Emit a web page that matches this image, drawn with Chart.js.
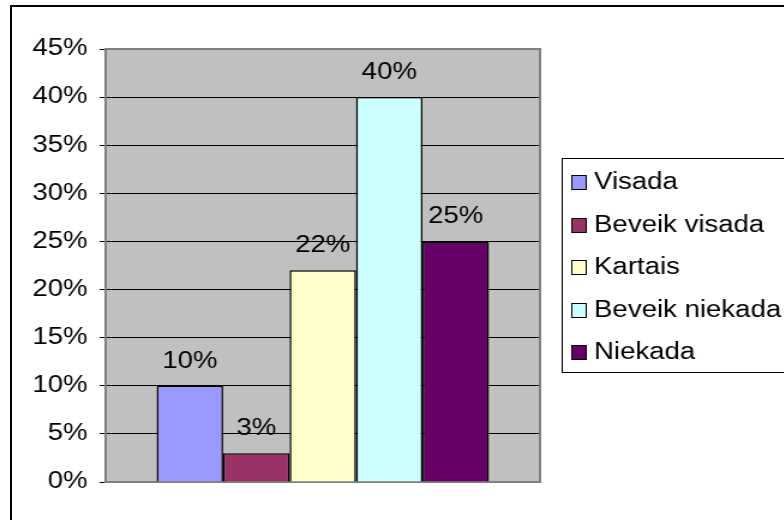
<!DOCTYPE html>
<html>
<head>
<meta charset="utf-8">
<script src="https://cdn.jsdelivr.net/npm/chart.js@4/dist/chart.umd.min.js"></script>
<style>
  html, body { margin: 0; padding: 0; background: #fff; overflow: hidden; }
  #frame {
    position: absolute; left: 10px; top: 5px;
    width: 800px; height: 540px;
    border: 2px solid #000;
  }
  /* the source picture is stretched sideways, so is this one */
  #myChart { position: absolute; left: 0; top: 1px; transform: scaleX(1.2); transform-origin: 0 0; }
</style>
</head>
<body>
<div id="frame"><canvas id="myChart" width="643" height="512"></canvas></div>
<script>
var categories = [''];
var seriesNames = ['Visada', 'Beveik visada', 'Kartais', 'Beveik niekada', 'Niekada'];
var seriesValues = [10, 3, 22, 40, 25];
var seriesColors = ['#9999FF', '#993366', '#FFFFCC', '#CCFFFF', '#660066'];
var yTicks = [0, 5, 10, 15, 20, 25, 30, 35, 40, 45];

var FONT = '"Liberation Sans", Arial, sans-serif';

var datasets = seriesNames.map(function (name, i) {
  return {
    label: name,
    data: [seriesValues[i]],
    backgroundColor: seriesColors[i],
    borderColor: '#000',
    borderWidth: 1.5,
    categoryPercentage: 0.765,
    barPercentage: 1
  };
});

// gray plot area, gray frame, value labels, boxed legend
var excelLook = {
  id: 'excelLook',
  beforeDraw: function (chart) {
    var a = chart.chartArea, ctx = chart.ctx;
    ctx.save();
    ctx.fillStyle = '#C0C0C0';
    ctx.fillRect(a.left, a.top, a.right - a.left, a.bottom - a.top);
    ctx.restore();
  },
  beforeDatasetsDraw: function (chart) {
    var a = chart.chartArea, ctx = chart.ctx;
    ctx.save();
    ctx.strokeStyle = '#808080';
    ctx.lineWidth = 2;
    ctx.strokeRect(a.left, a.top, a.right - a.left, a.bottom - a.top);
    ctx.restore();
  },
  afterDatasetsDraw: function (chart) {
    var ctx = chart.ctx;
    ctx.save();
    ctx.font = '23px ' + FONT;
    ctx.fillStyle = '#000';
    ctx.textAlign = 'center';
    ctx.textBaseline = 'alphabetic';
    chart.data.datasets.forEach(function (ds, i) {
      var bar = chart.getDatasetMeta(i).data[0];
      ctx.fillText(ds.data[0] + '%', bar.x, bar.y - 18);
    });
    ctx.restore();
  },
  afterDraw: function (chart) {
    var ctx = chart.ctx;
    var left = 458, top = 150, height = 214;
    ctx.save();
    ctx.fillStyle = '#fff';
    ctx.strokeStyle = '#000';
    ctx.lineWidth = 1;
    ctx.fillRect(left, top, 400, height);
    ctx.strokeRect(left + 0.5, top + 0.5, 400, height);
    ctx.font = '23px ' + FONT;
    ctx.textAlign = 'left';
    ctx.textBaseline = 'middle';
    chart.data.datasets.forEach(function (ds, i) {
      var cy = 174 + i * 42.5;
      var sy = Math.round(cy - 7);
      ctx.fillStyle = ds.backgroundColor;
      ctx.fillRect(466, sy, 12, 14);
      ctx.strokeStyle = '#000';
      ctx.strokeRect(466.5, sy + 0.5, 12, 14);
      ctx.fillStyle = '#000';
      ctx.fillText(ds.label, 485, cy + 1);
    });
    ctx.restore();
  }
};

new Chart(document.getElementById('myChart'), {
  type: 'bar',
  data: { labels: categories, datasets: datasets },
  options: {
    responsive: false,
    animation: false,
    layout: { padding: { left: 0, top: 41, right: 203, bottom: 38 } },
    plugins: {
      legend: { display: false },
      title: { display: false },
      tooltip: { enabled: false }
    },
    scales: {
      x: { display: false },
      y: {
        min: 0,
        max: 45,
        afterFit: function (scale) { scale.width = 78; },
        afterBuildTicks: function (scale) {
          scale.ticks = yTicks.map(function (v) { return { value: v }; });
        },
        ticks: {
          color: '#000',
          padding: 10,
          font: { family: FONT, size: 23 },
          callback: function (v) { return v + '%'; }
        },
        grid: { color: '#000', lineWidth: 1, tickLength: 5 },
        border: { display: false }
      }
    }
  },
  plugins: [excelLook]
});
</script>
</body>
</html>
